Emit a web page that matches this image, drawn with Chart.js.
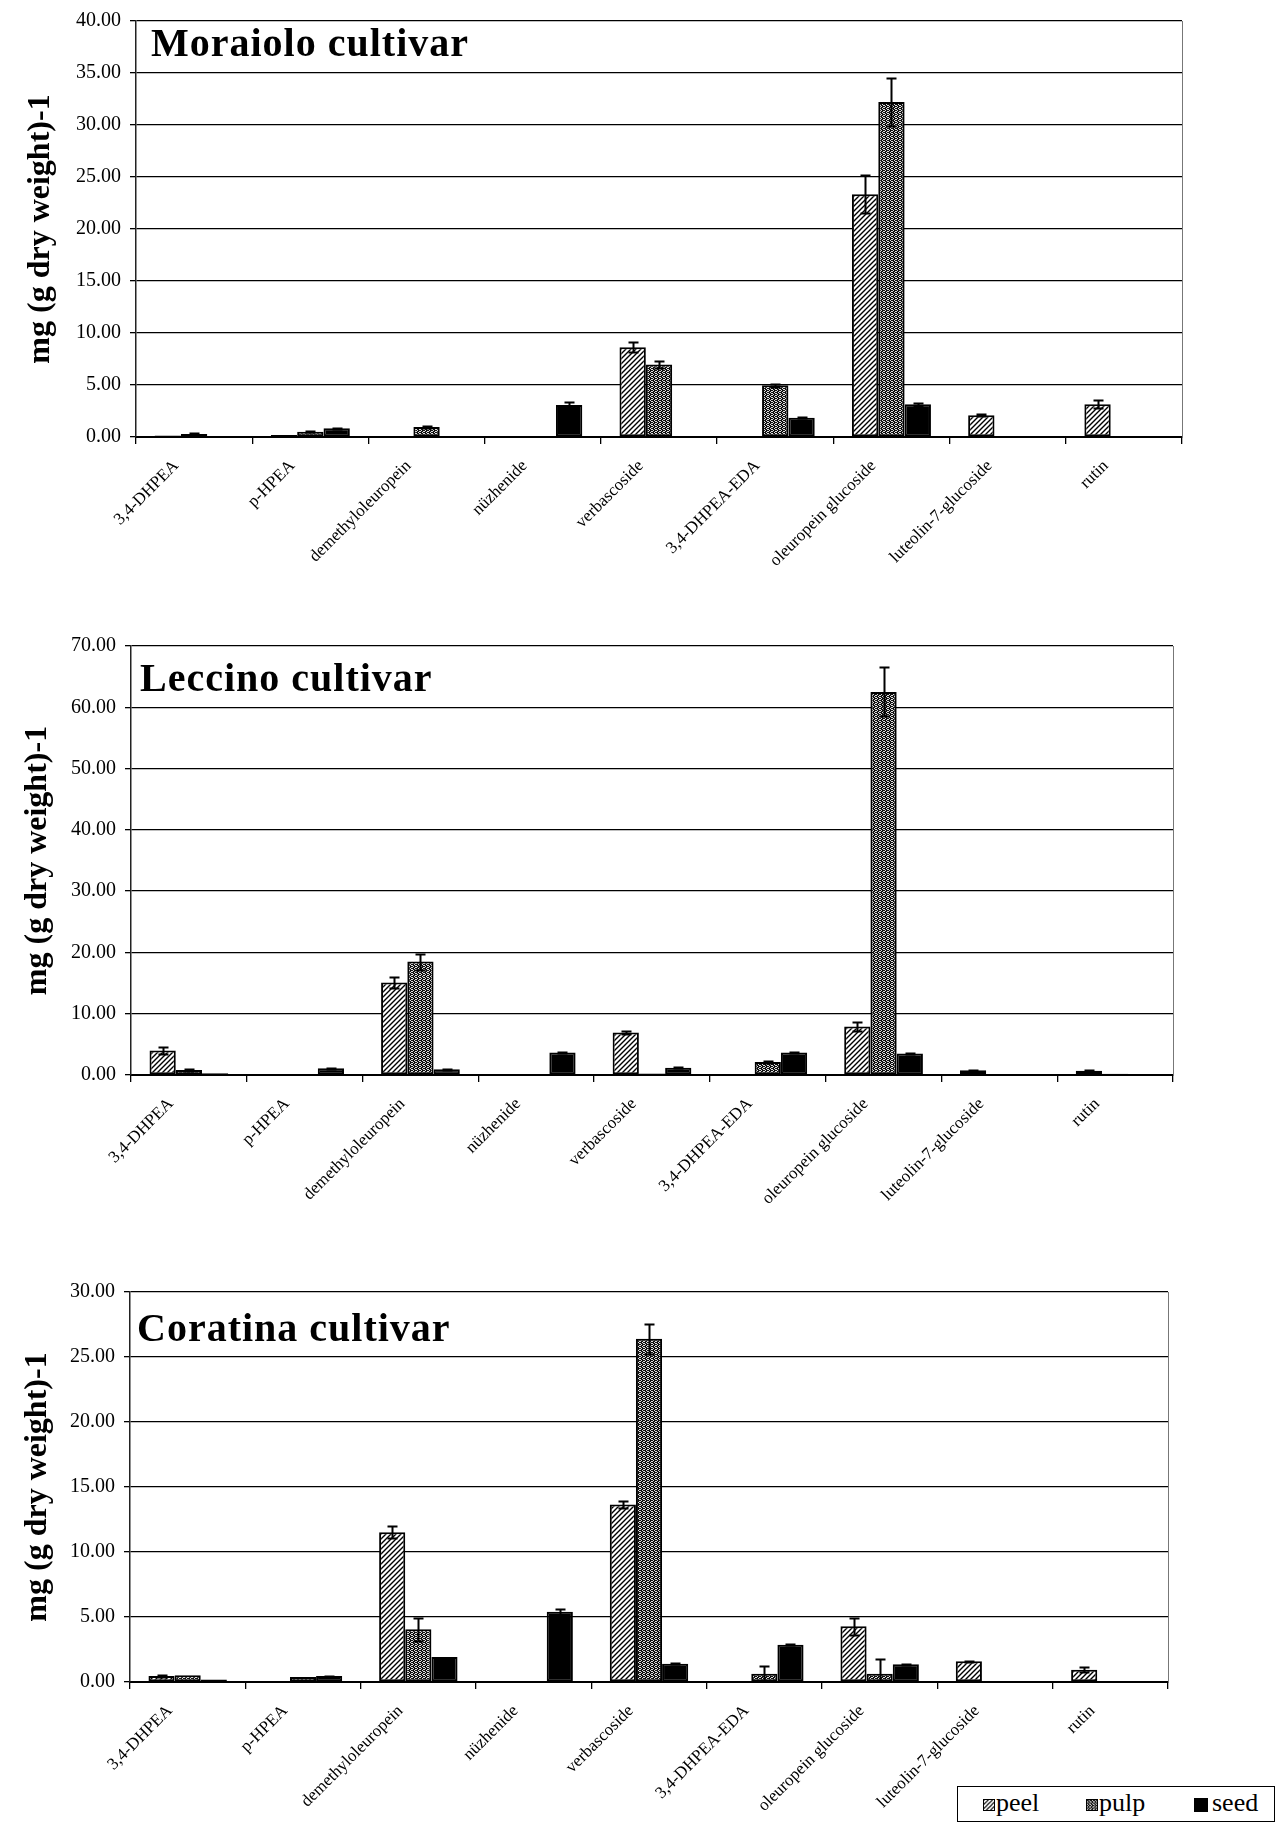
<!DOCTYPE html>
<html>
<head>
<meta charset="utf-8">
<script src="https://cdn.jsdelivr.net/npm/chart.js@4"></script>
<style>
  html, body { margin: 0; padding: 0; background: #fff; }
  #page { position: relative; width: 1276px; height: 1826px; overflow: hidden; background: #fff; }
  canvas.chart { position: absolute; left: 0; }
  #legend { position: absolute; left: 957px; top: 1786px; width: 318px; height: 36px; border: 1px solid #000;
            box-sizing: border-box; font-family: "Liberation Serif", serif; font-size: 26px; background: #fff; }
  #legend .sw { position: absolute; top: 12px; width: 12px; height: 12px; border: 1px solid #000; box-sizing: border-box; }
  #legend .tx { position: absolute; top: 1px; line-height: 30px; }
</style>
</head>
<body>
<div id="page">
  <canvas class="chart" id="c1" width="1276" height="620" style="top:0px"></canvas>
  <canvas class="chart" id="c2" width="1276" height="630" style="top:620px"></canvas>
  <canvas class="chart" id="c3" width="1276" height="576" style="top:1250px"></canvas>
  <div id="legend">
    <canvas class="sw" id="sw-peel" width="12" height="12" style="left:25px"></canvas><span class="tx" style="left:38px">peel</span>
    <canvas class="sw" id="sw-pulp" width="12" height="12" style="left:128px"></canvas><span class="tx" style="left:141px">pulp</span>
    <canvas class="sw" id="sw-seed" width="14" height="14" style="left:236px;top:11px;width:14px;height:14px"></canvas><span class="tx" style="left:254px">seed</span>
  </div>
</div>
<script>
const compounds = ["3,4-DHPEA", "p-HPEA", "demethyloleuropein", "nüzhenide", "verbascoside",
                   "3,4-DHPEA-EDA", "oleuropein glucoside", "luteolin-7-glucoside", "rutin"];
const tissues = ["peel", "pulp", "seed"];

// Moraiolo
const moraioloPeel    = [0.15, 0.20, 0.05, 0.03, 8.64, 0.03, 23.35, 2.09, 3.16];
const moraioloPeelErr = [0, 0, 0, 0, 0.45, 0, 1.80, 0.08, 0.38];
const moraioloPulp    = [0.30, 0.50, 0.95, 0.03, 6.96, 4.97, 32.20, 0.03, 0.05];
const moraioloPulpErr = [0.05, 0.05, 0.08, 0, 0.30, 0.12, 2.30, 0, 0];
const moraioloSeed    = [0.06, 0.85, 0.05, 3.07, 0.05, 1.84, 3.16, 0.03, 0.05];
const moraioloSeedErr = [0, 0.05, 0, 0.25, 0, 0.05, 0.15, 0, 0];
const moraioloTicks   = [0, 40, 5];

// Leccino
const leccinoPeel    = [3.99, 0.02, 15.10, 0.02, 6.94, 0.03, 7.90, 0.76, 0.70];
const leccinoPeelErr = [0.60, 0, 0.90, 0, 0.30, 0, 0.75, 0.08, 0.08];
const leccinoPulp    = [0.82, 0.05, 18.50, 0.05, 0.25, 2.13, 62.50, 0.03, 0.20];
const leccinoPulpErr = [0.10, 0, 1.30, 0, 0, 0.15, 4.00, 0, 0];
const leccinoSeed    = [0.27, 1.10, 0.93, 3.66, 1.20, 3.66, 3.50, 0.03, 0.15];
const leccinoSeedErr = [0, 0.10, 0.05, 0.15, 0.10, 0.15, 0.15, 0, 0];
const leccinoTicks   = [0, 70, 10];

// Coratina
const coratinaPeel    = [0.46, 0.03, 11.52, 0.03, 13.66, 0.03, 4.28, 1.60, 0.95];
const coratinaPeelErr = [0.05, 0, 0.45, 0, 0.30, 0, 0.65, 0.05, 0.20];
const coratinaPulp    = [0.52, 0.39, 4.05, 0.05, 26.40, 0.64, 0.64, 0.03, 0.05];
const coratinaPulpErr = [0, 0, 0.90, 0, 1.15, 0.60, 1.10, 0, 0];
const coratinaSeed    = [0.20, 0.46, 1.93, 5.40, 1.41, 2.87, 1.36, 0.03, 0.03];
const coratinaSeedErr = [0, 0.03, 0, 0.25, 0.05, 0.05, 0.05, 0, 0];
const coratinaTicks   = [0, 30, 5];

const SERIF = '"Liberation Serif", "Times New Roman", serif';

function hatchPattern() {
    const c = document.createElement("canvas");
    c.width = 5; c.height = 5;
    const g = c.getContext("2d");
    g.fillStyle = "#fff";
    g.fillRect(0, 0, 5, 5);
    g.strokeStyle = "#000";
    g.lineWidth = 1.4;
    g.beginPath();
    g.moveTo(-1, 6); g.lineTo(6, -1);
    g.moveTo(-1, 1); g.lineTo(1, -1);
    g.moveTo(4, 6); g.lineTo(6, 4);
    g.stroke();
    return g.createPattern(c, "repeat");
}

function stipplePattern() {
    const rows = ["1101", "0110", "1011", "0110"];
    const c = document.createElement("canvas");
    c.width = 4; c.height = 4;
    const g = c.getContext("2d");
    g.fillStyle = "#e0e0e0";
    g.fillRect(0, 0, 4, 4);
    g.fillStyle = "#111";
    rows.forEach((r, y) => [...r].forEach((p, x) => { if (p === "1") g.fillRect(x, y, 1, 1); }));
    return g.createPattern(c, "repeat");
}

const fills = { peel: hatchPattern(), pulp: stipplePattern(), seed: "#000" };

const errorBars = {
    id: "errorBars",
    afterDatasetsDraw(chart) {
        const { ctx, chartArea, scales: { y } } = chart;
        ctx.save();
        ctx.beginPath();
        ctx.rect(chartArea.left, chartArea.top - 30, chartArea.width, chartArea.height + 30);
        ctx.clip();
        ctx.strokeStyle = "#000";
        ctx.lineWidth = 2;
        chart.data.datasets.forEach((ds, di) => {
            const meta = chart.getDatasetMeta(di);
            (ds.errors || []).forEach((e, i) => {
                if (!e) return;
                const bar = meta.data[i];
                const v = ds.data[i];
                const yTop = Math.round(y.getPixelForValue(v + e)) + 0.5;
                const yBot = Math.round(y.getPixelForValue(Math.max(0, v - e))) + 0.5;
                const x = Math.round(bar.x) + 0.5;
                ctx.beginPath();
                ctx.moveTo(x, yTop); ctx.lineTo(x, yBot);
                ctx.moveTo(x - 5, yTop); ctx.lineTo(x + 5, yTop);
                ctx.moveTo(x - 5, yBot); ctx.lineTo(x + 5, yBot);
                ctx.stroke();
            });
        });
        ctx.restore();
    }
};

const cultivarTitle = {
    id: "cultivarTitle",
    afterDraw(chart, args, opts) {
        const { ctx, chartArea } = chart;
        ctx.save();
        ctx.font = "bold 40px " + SERIF;
        ctx.letterSpacing = "1px";
        ctx.fillStyle = "#000";
        ctx.textBaseline = "alphabetic";
        ctx.fillText(opts.text, chartArea.left + opts.dx, chartArea.top + opts.dy);
        ctx.restore();
    }
};

function makeChart(id, title, peel, peelErr, pulp, pulpErr, seed, seedErr, ticks, box) {
    const series = [[peel, peelErr], [pulp, pulpErr], [seed, seedErr]];
    return new Chart(document.getElementById(id), {
        type: "bar",
        data: {
            labels: compounds,
            datasets: tissues.map((t, k) => ({
                label: t,
                data: series[k][0],
                errors: series[k][1],
                backgroundColor: fills[t],
                borderColor: "#000",
                borderWidth: 2,
                borderSkipped: false,
                categoryPercentage: 0.68,
                barPercentage: 1.0
            }))
        },
        options: {
            responsive: false,
            animation: false,
            devicePixelRatio: 1,
            layout: { padding: { top: box.top, right: box.right, left: 0, bottom: 0 } },
            plugins: {
                legend: { display: false },
                tooltip: { enabled: false },
                cultivarTitle: { text: title, dx: box.tdx, dy: box.tdy }
            },
            scales: {
                x: {
                    grid: { display: true, drawOnChartArea: false, drawTicks: true, tickLength: 7, color: "#000", lineWidth: 1.3, offset: true },
                    border: { display: true, color: "#000", width: 2 },
                    ticks: {
                        autoSkip: false, minRotation: 45, maxRotation: 45, padding: 12, labelOffset: -18,
                        color: "#000", font: { family: SERIF, size: 17 }
                    },
                    afterFit: (s) => { s.height = box.xh; }
                },
                y: {
                    min: ticks[0], max: ticks[1],
                    grid: { color: "#000", lineWidth: 1.3, tickLength: 6 },
                    border: { display: true, color: "#222", width: 1.5 },
                    ticks: {
                        stepSize: ticks[2], padding: 9, color: "#000",
                        font: { family: SERIF, size: 20 },
                        callback: (v) => Number(v).toFixed(2)
                    },
                    title: {
                        display: true, text: "mg (g dry weight)-1", color: "#000",
                        font: { family: SERIF, size: 32, weight: "bold" },
                        padding: { top: box.ttop, bottom: 0 }
                    },
                    afterFit: (s) => { s.width = box.left; }
                },
                yRight: {
                    position: "right", display: true, min: 0, max: 1,
                    grid: { drawOnChartArea: false, drawTicks: false },
                    border: { display: true, color: "#777", width: 1 },
                    ticks: { display: false },
                    afterFit: (s) => { s.width = 0; }
                }
            }
        },
        plugins: [errorBars, cultivarTitle]
    });
}

makeChart("c1", "Moraiolo cultivar", moraioloPeel, moraioloPeelErr, moraioloPulp, moraioloPulpErr,
          moraioloSeed, moraioloSeedErr, moraioloTicks,
          { top: 15, right: 94, left: 136, xh: 620 - 437, ttop: 22, tdx: 15, tdy: 35 });
makeChart("c2", "Leccino cultivar", leccinoPeel, leccinoPeelErr, leccinoPulp, leccinoPulpErr,
          leccinoSeed, leccinoSeedErr, leccinoTicks,
          { top: 26, right: 103, left: 131, xh: 630 - 455, ttop: 19, tdx: 9, tdy: 45 });
makeChart("c3", "Coratina cultivar", coratinaPeel, coratinaPeelErr, coratinaPulp, coratinaPulpErr,
          coratinaSeed, coratinaSeedErr, coratinaTicks,
          { top: 42, right: 108, left: 130, xh: 576 - 432, ttop: 19, tdx: 7, tdy: 49 });

// legend swatches
["peel", "pulp", "seed"].forEach((t) => {
    const c = document.getElementById("sw-" + t);
    const g = c.getContext("2d");
    g.fillStyle = fills[t];
    g.fillRect(0, 0, c.width, c.height);
});
</script>
</body>
</html>
